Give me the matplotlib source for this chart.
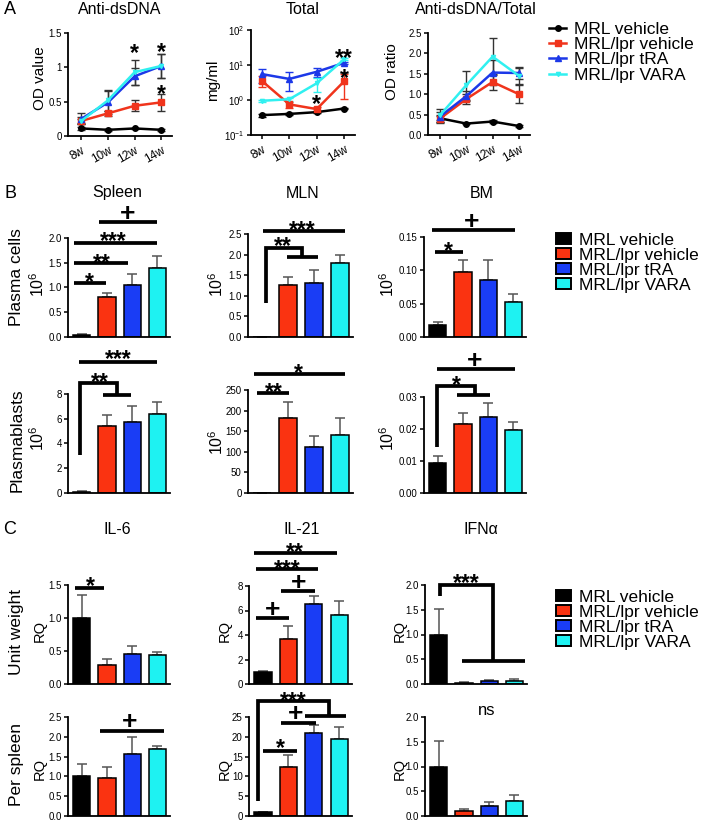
import matplotlib
matplotlib.use('Agg')
import matplotlib.pyplot as plt
from matplotlib.ticker import FormatStrFormatter, NullLocator, LogLocator, FixedFormatter
from matplotlib.patches import Patch
import matplotlib.transforms as mtrans
import numpy as np

plt.rcParams['font.family'] = ['Liberation Sans', 'DejaVu Sans']
plt.rcParams['mathtext.fontset'] = 'custom'
plt.rcParams['mathtext.rm'] = 'Liberation Sans'
plt.rcParams['mathtext.it'] = 'Liberation Sans:italic'
plt.rcParams['mathtext.bf'] = 'Liberation Sans:bold'

W, H = 708, 823
fig = plt.figure(figsize=(W / 100, H / 100), dpi=100)

# ------------------------------------------------------------------ data
groups = ['MRL vehicle', 'MRL/lpr vehicle', 'MRL/lpr tRA', 'MRL/lpr VARA']
weeks = ['8w', '10w', '12w', '14w']

# Panel A (rows: MRL vehicle, MRL/lpr vehicle, tRA, VARA)
dsdna_mean = [[0.11, 0.09, 0.11, 0.09],
              [0.22, 0.33, 0.44, 0.49],
              [0.25, 0.49, 0.87, 1.02],
              [0.22, 0.52, 0.93, 1.02]]
dsdna_err = [[0.02, 0.01, 0.01, 0.01],
             [0.03, 0.04, 0.08, 0.12],
             [0.08, 0.17, 0.12, 0.17],
             [0.05, 0.15, 0.18, 0.17]]
total_mean = [[0.37, 0.40, 0.45, 0.57],
              [3.5, 0.75, 0.55, 3.4],
              [5.5, 4.0, 6.4, 11.5],
              [0.95, 1.05, 3.0, 14.5]]
total_err = [[0.04, 0.02, 0.02, 0.03],
             [1.2, 0.15, 0.08, 2.3],
             [2.4, 2.2, 1.8, 1.0],
             [0.05, 0.1, 1.3, 1.0]]
ratio_mean = [[0.41, 0.28, 0.33, 0.22],
              [0.40, 0.88, 1.30, 1.00],
              [0.45, 0.95, 1.53, 1.52],
              [0.48, 1.22, 1.92, 1.45]]
ratio_err = [[0.05, 0.02, 0.04, 0.02],
             [0.10, 0.12, 0.20, 0.22],
             [0.12, 0.12, 0.30, 0.15],
             [0.15, 0.35, 0.45, 0.20]]

# Panel B
spleen_pc_mean = [0.05, 0.80, 1.05, 1.39]
spleen_pc_err = [0.01, 0.09, 0.22, 0.24]
mln_pc_mean = [0.0, 1.26, 1.30, 1.79]
mln_pc_err = [0.0, 0.20, 0.33, 0.20]
bm_pc_mean = [0.018, 0.097, 0.086, 0.053]
bm_pc_err = [0.005, 0.018, 0.030, 0.011]
spleen_pb_mean = [0.1, 5.4, 5.75, 6.4]
spleen_pb_err = [0.05, 0.9, 1.25, 0.95]
mln_pb_mean = [0.0, 181, 112, 141]
mln_pb_err = [0.0, 39, 27, 42]
bm_pb_mean = [0.0093, 0.0216, 0.0236, 0.0196]
bm_pb_err = [0.0022, 0.0035, 0.0045, 0.0027]

# Panel C
il6_unit_mean = [1.0, 0.29, 0.45, 0.44]
il6_unit_err = [0.35, 0.09, 0.13, 0.05]
il21_unit_mean = [1.0, 3.7, 6.55, 5.6]
il21_unit_err = [0.05, 1.05, 0.6, 1.15]
ifn_unit_mean = [1.0, 0.03, 0.06, 0.07]
ifn_unit_err = [0.51, 0.01, 0.02, 0.03]
il6_spl_mean = [1.0, 0.95, 1.56, 1.70]
il6_spl_err = [0.32, 0.28, 0.44, 0.07]
il21_spl_mean = [1.0, 12.4, 20.9, 19.5]
il21_spl_err = [0.1, 2.9, 2.0, 3.1]
ifn_spl_mean = [1.0, 0.10, 0.20, 0.30]
ifn_spl_err = [0.52, 0.04, 0.09, 0.12]

line_colors = ['#000000', '#F0341C', '#1C38E8', '#30F0F0']
line_markers = ['o', 's', '^', 'v']
bar_colors = ['#000000', '#FA3311', '#1A3DF5', '#1EF2F2']


# ------------------------------------------------------------------ helpers
def axpx(l, t, r, b):
    return fig.add_axes([l / W, 1 - b / H, (r - l) / W, (b - t) / H])


def ftext(x, y, s, **kw):
    kw.setdefault('ha', 'center')
    kw.setdefault('va', 'center')
    fig.text(x / W, 1 - y / H, s, **kw)


def style(ax):
    for s in ['top', 'right']:
        ax.spines[s].set_visible(False)
    for s in ['left', 'bottom']:
        ax.spines[s].set_linewidth(1.3)
    ax.tick_params(axis='both', direction='out', length=3, width=1.1,
                   labelsize=7, pad=1.5)


def label(ax, x, y, s):
    if s == 'ns':
        fs, wt, off = 12, 'normal', 0.26
    elif s.startswith('*'):
        fs, wt, off = 16.5, 'bold', 0.58
    else:
        fs, wt, off = 19, 'bold', 0.34
    tr = mtrans.offset_copy(ax.transData, fig=fig, x=0, y=-off * fs, units='points')
    ax.text(x, y, s, transform=tr, ha='center', va='baseline', fontsize=fs,
            fontweight=wt, clip_on=False)


def annotate(ax, items):
    for it in items:
        if it[0] == 'line':
            _, x0, x1, y = it
            ax.plot([x0, x1], [y, y], color='k', lw=2.7, clip_on=False,
                    solid_capstyle='butt')
        elif it[0] == 'bracket':
            _, xv, yb, yt, xr, yd, x0, x1 = it
            ax.plot([xv, xv, xr, xr], [yb, yt, yt, yd], color='k', lw=2.7,
                    clip_on=False, solid_capstyle='butt', solid_joinstyle='miter')
            ax.plot([x0, x1], [yd, yd], color='k', lw=2.7, clip_on=False,
                    solid_capstyle='butt')
        else:
            _, x, y, s = it
            label(ax, x, y, s)


def bar_panel(rect, means, errs, ylim, yticks, fmt, notes):
    ax = axpx(*rect)
    x = np.arange(len(means))
    ax.errorbar(x, means, yerr=[np.zeros(len(errs)), errs], fmt='none',
                ecolor='#555555', elinewidth=1.1, capsize=3.5, capthick=1.1,
                zorder=1)
    ax.bar(x, means, width=0.68, color=bar_colors, edgecolor='k',
           linewidth=1.1, zorder=2)
    style(ax)
    ax.set_xlim(-0.55, 3.5)
    ax.set_ylim(*ylim)
    ax.set_yticks(yticks)
    ax.yaxis.set_major_formatter(FormatStrFormatter(fmt))
    ax.set_xticks([])
    annotate(ax, notes)
    return ax


def line_panel(rect, means, errs, xlim, ylim, ecol_same):
    ax = axpx(*rect)
    x = np.arange(len(weeks))
    for i in range(4):
        ec = line_colors[i] if ecol_same else '#333333'
        ax.errorbar(x, means[i], yerr=errs[i], fmt='none', ecolor=ec,
                    elinewidth=1.0, capsize=3, capthick=1.0, zorder=2)
    handles = []
    for i in range(4):
        h, = ax.plot(x, means[i], color=line_colors[i], lw=1.8,
                     marker=line_markers[i], ms=4 if i < 3 else 3,
                     label=groups[i], zorder=3)
        handles.append(h)
    style(ax)
    ax.set_xlim(*xlim)
    ax.set_ylim(*ylim)
    ax.set_xticks(x)
    ax.set_xticklabels(weeks, rotation=30, ha='right', rotation_mode='anchor',
                       fontsize=8.5)
    ax.tick_params(axis='x', pad=3)
    return ax, handles


# ------------------------------------------------------------------ panel A
a1, hA = line_panel((68, 33, 172, 136), dsdna_mean, dsdna_err, (-0.5, 3.4), (0, 1.5), False)
a1.set_yticks([0, 0.5, 1, 1.5])
a1.yaxis.set_major_formatter(FixedFormatter(['0', '0.5', '1', '1.5']))
annotate(a1, [('text', 2, 1.30, '*'), ('text', 3, 1.32, '*'), ('text', 3, 0.70, '*')])

a2, _ = line_panel((251, 30, 355, 135), total_mean, total_err, (-0.4, 3.4), (0.1, 100), True)
a2.set_yscale('log')
a2.set_ylim(0.1, 100)
a2.yaxis.set_major_locator(LogLocator(base=10, numticks=10))
a2.yaxis.set_minor_locator(NullLocator())
annotate(a2, [('text', 3, 23.5, '**'), ('text', 3, 6.3, '*'), ('text', 2, 1.2, '*')])

a3, _ = line_panel((428, 33, 530, 135), ratio_mean, ratio_err, (-0.45, 3.42), (0, 2.5), False)
a3.set_yticks([0, 0.5, 1.0, 1.5, 2.0, 2.5])
a3.yaxis.set_major_formatter(FormatStrFormatter('%.1f'))

leg_kw = dict(loc='upper left', frameon=False, fontsize=12.5,
              handletextpad=0.45, labelspacing=0.0, borderpad=0,
              borderaxespad=0)
fig.legend(handles=hA, labels=groups, bbox_to_anchor=(549 / W, 1 - 22 / H),
           handlelength=1.0, **leg_kw)

ftext(120, 10, 'Anti-dsDNA', fontsize=11.5)
ftext(303, 10, 'Total', fontsize=11.5)
ftext(476, 10, 'Anti-dsDNA/Total', fontsize=11.5)
ftext(10, 10, 'A', fontsize=13)
ftext(40, 78, 'OD value', fontsize=11, rotation=90)
ftext(213, 80, 'mg/ml', fontsize=11, rotation=90)
ftext(392, 72, 'OD ratio', fontsize=11, rotation=90)

# ------------------------------------------------------------------ panel B
bar_panel((68, 238, 170, 337), spleen_pc_mean, spleen_pc_err, (0, 2.0),
          [0, 0.5, 1.0, 1.5, 2.0], '%.1f',
          [('line', -0.3, 0.95, 1.10), ('text', 0.28, 1.24, '*'),
           ('line', -0.3, 1.85, 1.50), ('text', 0.80, 1.63, '**'),
           ('line', -0.3, 3.0, 1.90), ('text', 1.24, 2.06, '***'),
           ('line', 0.68, 3.0, 2.33), ('text', 1.83, 2.53, '+')])
bar_panel((248, 234, 353, 337), mln_pc_mean, mln_pc_err, (0, 2.5),
          [0, 0.5, 1.0, 1.5, 2.0, 2.5], '%.1f',
          [('line', 0.03, 3.2, 2.57), ('text', 1.56, 2.76, '***'),
           ('bracket', 0.15, 0.82, 2.15, 1.52, 1.95, 0.95, 2.15),
           ('text', 0.78, 2.36, '**')])
bar_panel((424, 237, 526, 337), bm_pc_mean, bm_pc_err, (0, 0.15),
          [0, 0.05, 0.10, 0.15], '%.2f',
          [('line', -0.12, 1.0, 0.127), ('text', 0.42, 0.138, '*'),
           ('line', -0.25, 3.05, 0.161), ('text', 1.35, 0.176, '+')])
bar_panel((68, 394, 170, 493), spleen_pb_mean, spleen_pb_err, (0, 8),
          [0, 2, 4, 6, 8], '%d',
          [('line', -0.12, 3.0, 10.6), ('text', 1.43, 11.35, '***'),
           ('bracket', -0.07, 3.1, 8.9, 1.40, 7.9, 0.84, 1.96),
           ('text', 0.72, 9.45, '**')])
bar_panel((248, 390, 353, 493), mln_pb_mean, mln_pb_err, (0, 250),
          [0, 50, 100, 150, 200, 250], '%d',
          [('line', -0.3, 3.2, 290), ('text', 1.4, 307, '*'),
           ('line', -0.22, 1.05, 243), ('text', 0.43, 260, '**')])
bar_panel((424, 397, 526, 493), bm_pb_mean, bm_pb_err, (0, 0.03),
          [0, 0.01, 0.02, 0.03], '%.2f',
          [('line', -0.03, 3.05, 0.0387), ('text', 1.47, 0.0420, '+'),
           ('bracket', -0.03, 0.0145, 0.0334, 1.47, 0.0306, 0.76, 2.07),
           ('text', 0.72, 0.0357, '*')])

hB = [Patch(facecolor=c, edgecolor='k', linewidth=1.4) for c in bar_colors]
for ytop in (233, 590):
    fig.legend(handles=hB, labels=groups, bbox_to_anchor=(556 / W, 1 - ytop / H),
               handlelength=0.85, handleheight=0.6, **leg_kw)

ftext(117, 193, 'Spleen', fontsize=11.5)
ftext(303, 193, 'MLN', fontsize=11.5)
ftext(482, 193, 'BM', fontsize=11.5)
ftext(10, 193, 'B', fontsize=13)
ftext(17, 277, 'Plasma cells', fontsize=12.5, rotation=90)
ftext(17, 440, 'Plasmablasts', fontsize=12.5, rotation=90)
for xx, yy in [(38, 284), (217, 284), (388, 284), (38, 438), (217, 442), (388, 438)]:
    ftext(xx, yy, '10$^6$', fontsize=11.5, rotation=90)

# ------------------------------------------------------------------ panel C
bar_panel((68, 585, 170, 684), il6_unit_mean, il6_unit_err, (0, 1.5),
          [0, 0.5, 1.0, 1.5], '%.1f',
          [('line', -0.27, 0.88, 1.46), ('text', 0.32, 1.58, '*')])
bar_panel((249, 586, 352, 684), il21_unit_mean, il21_unit_err, (0, 8),
          [0, 2, 4, 6, 8], '%d',
          [('line', -0.35, 2.9, 10.7), ('text', 1.24, 11.25, '**'),
           ('line', -0.27, 2.15, 9.36), ('text', 0.95, 9.9, '***'),
           ('line', 0.71, 2.04, 7.6), ('text', 1.39, 8.4, '+'),
           ('line', -0.27, 1.04, 5.36), ('text', 0.39, 6.2, '+')])
bar_panel((425, 585, 527, 684), ifn_unit_mean, ifn_unit_err, (0, 2.0),
          [0, 0.5, 1.0, 1.5, 2.0], '%.1f',
          [('bracket', 0.05, 1.78, 2.0, 2.15, 0.46, 0.92, 3.42),
           ('text', 1.08, 2.17, '***')])
bar_panel((68, 717, 170, 816), il6_spl_mean, il6_spl_err, (0, 2.5),
          [0, 0.5, 1.0, 1.5, 2.0, 2.5], '%.1f',
          [('line', 0.74, 3.25, 2.15), ('text', 1.91, 2.42, '+')])
bar_panel((249, 717, 352, 816), il21_spl_mean, il21_spl_err, (0, 25),
          [0, 5, 10, 15, 20, 25], '%d',
          [('bracket', -0.19, 3.8, 29, 2.61, 25.2, 1.67, 3.25),
           ('text', 1.2, 30.6, '***'),
           ('line', 0.72, 2.10, 23.5), ('text', 1.28, 26.3, '+'),
           ('line', 0.0, 1.35, 16.4), ('text', 0.68, 18.7, '*')])
bar_panel((425, 717, 527, 816), ifn_spl_mean, ifn_spl_err, (0, 2.0),
          [0, 0.5, 1.0, 1.5, 2.0], '%.1f',
          [('text', 1.9, 2.13, 'ns')])

ftext(117, 530, 'IL-6', fontsize=11.5)
ftext(302, 530, 'IL-21', fontsize=11.5)
ftext(481, 530, 'IFNα', fontsize=11.5)
ftext(10, 529, 'C', fontsize=13)
ftext(17, 632, 'Unit weight', fontsize=12.5, rotation=90)
ftext(17, 764, 'Per spleen', fontsize=12.5, rotation=90)
for xx, yy in [(40, 631), (225, 631), (400, 631), (40, 769), (225, 769), (400, 769)]:
    ftext(xx, yy, 'RQ', fontsize=10.5, rotation=90)

fig.savefig('out.png', dpi=100)
